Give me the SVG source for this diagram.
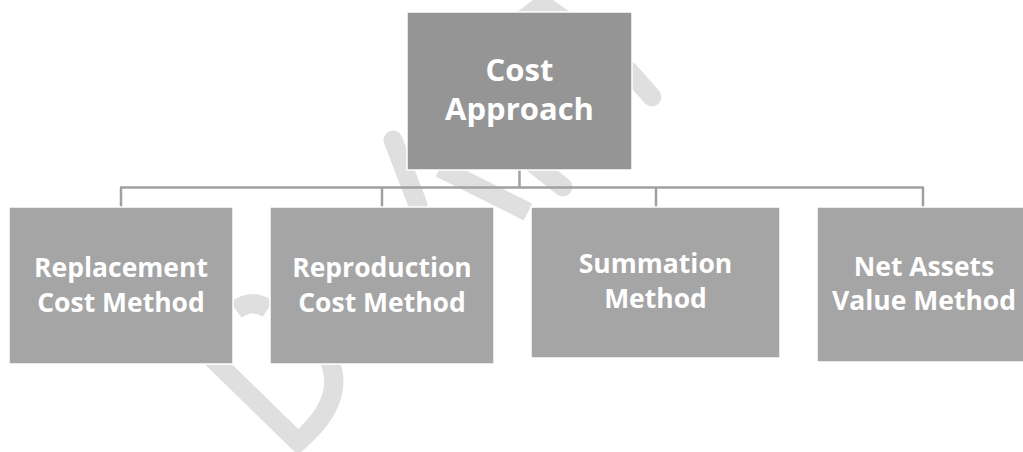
<svg xmlns="http://www.w3.org/2000/svg" width="1023" height="452" viewBox="0 0 1023 452">
  <style>
    .wm { fill: none; stroke: #dfdfdf; stroke-width: 19; stroke-linecap: round; stroke-linejoin: round; }
    .wmb { fill: none; stroke: #dfdfdf; stroke-width: 19; stroke-linecap: butt; }
    .box { stroke: #ffffff; stroke-width: 1.5; }
    .top { fill: #959595; }
    .child { fill: #a5a5a5; }
    .conn { fill: none; stroke: #a0a0a0; stroke-width: 2.5; }
    .lbl { font-family: "Open Sans", "Liberation Sans", sans-serif; font-weight: 700; fill: #ffffff; text-anchor: middle; }
    .lt { font-size: 31px; }
    .lc { font-size: 26.5px; }
  </style>
  <rect width="1023" height="452" fill="#ffffff"/>

  <g id="watermark">
    <path class="wmb" d="M212,358 L298,442 Q347,400 329,360"/>
    <path class="wmb" d="M236,310 Q252,298 268,309"/>
    <path class="wm" d="M393,140 L418,205"/>
    <path class="wmb" d="M440,168 L528,212"/>
    <path class="wm" d="M535,165 L563,187"/>
    <polygon points="517,12 533,0 553,0 570,12" fill="#dfdfdf"/>
    <path class="wm" d="M628,70 L652,97"/>
  </g>

  <g id="connectors">
    <line class="conn" x1="519.5" y1="170" x2="519.5" y2="187.5"/>
    <line class="conn" x1="120" y1="187.5" x2="924" y2="187.5"/>
    <line class="conn" x1="121" y1="187.5" x2="121" y2="207"/>
    <line class="conn" x1="382" y1="187.5" x2="382" y2="207"/>
    <line class="conn" x1="656" y1="187.5" x2="656" y2="207"/>
    <line class="conn" x1="923" y1="187.5" x2="923" y2="207"/>
  </g>

  <g id="node-cost-approach">
    <rect class="box top" x="407" y="12" width="225" height="158"/>
    <text class="lbl lt" x="519.5" y="81">Cost</text>
    <text class="lbl lt" x="519.5" y="120">Approach</text>
  </g>

  <g id="node-replacement">
    <rect class="box child" x="9" y="207" width="224" height="157"/>
    <text class="lbl lc" x="121" y="277">Replacement</text>
    <text class="lbl lc" x="121" y="312">Cost Method</text>
  </g>

  <g id="node-reproduction">
    <rect class="box child" x="270" y="207" width="224" height="157"/>
    <text class="lbl lc" x="382" y="277">Reproduction</text>
    <text class="lbl lc" x="382" y="312">Cost Method</text>
  </g>

  <g id="node-summation">
    <rect class="box child" x="531" y="207" width="249" height="151"/>
    <text class="lbl lc" x="655.5" y="273">Summation</text>
    <text class="lbl lc" x="655.5" y="308">Method</text>
  </g>

  <g id="node-net-assets">
    <rect class="box child" x="817" y="207" width="212" height="155"/>
    <text class="lbl lc" x="924" y="276">Net Assets</text>
    <text class="lbl lc" x="924" y="310">Value Method</text>
  </g>
</svg>
